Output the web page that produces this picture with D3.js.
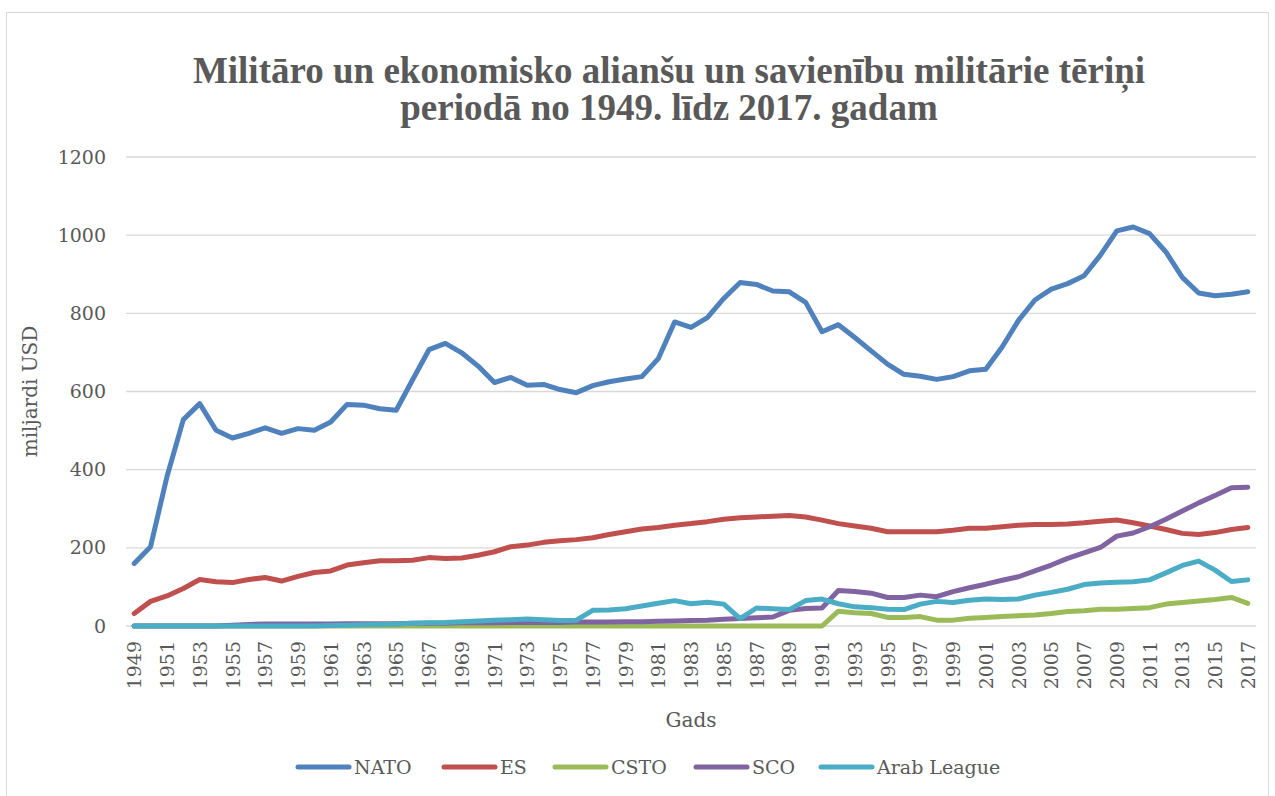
<!DOCTYPE html>
<html>
<head>
<meta charset="utf-8">
<script src="https://cdn.jsdelivr.net/npm/d3@7"></script>
<style>
  body { margin: 0; background: #fff; }
  text { fill: #595959; }
</style>
</head>
<body>
<svg id="chart" width="1275" height="796"></svg>
<script>
// data (miljardi USD)
const years = d3.range(1949, 2018)

const nato = [160, 203, 382, 528, 569, 501, 481, 493, 507, 493,
  505, 501, 522, 567, 565, 556, 552, 630, 707, 723,
  699, 665, 623, 636, 616, 618, 605, 597, 615, 625,
  632, 638, 684, 778, 764, 789, 838, 879, 874, 857,
  855, 828, 753, 771, 738, 704, 670, 644, 639, 631,
  638, 653, 657, 714, 782, 834, 862, 876, 896, 949,
  1011, 1021, 1004, 957, 892, 852, 845, 849, 855]

const es = [32, 63, 77, 96, 119, 113, 111, 119, 124, 115,
  127, 137, 141, 156, 162, 167, 167, 168, 175, 173,
  174, 181, 190, 203, 207, 214, 218, 221, 226, 234,
  241, 248, 252, 258, 262, 267, 273, 277, 279, 281,
  283, 279, 271, 262, 256, 250, 241, 241, 241, 241,
  245, 250, 250, 254, 258, 260, 260, 261, 264, 268,
  271, 264, 256, 247, 237, 234, 239, 247, 252]

const csto = [0, 0, 0, 0, 0, 0, 0, 0, 0, 0,
  0, 0, 0, 0, 0, 0, 0, 0, 0, 0,
  0, 0, 0, 0, 0, 0, 0, 0, 0, 0,
  0, 0, 0, 0, 0, 0, 0, 0, 0, 0,
  0, 0, 0, 38, 34, 32, 22, 22, 24, 15,
  15, 20, 22, 24, 26, 28, 32, 37, 39, 43,
  43, 45, 47, 56, 60, 64, 68, 73, 58]

const sco = [0, 0, 0, 0, 0, 0, 2, 4, 5, 5,
  5, 5, 5, 6, 6, 6, 6, 7, 7, 7,
  8, 8, 8, 9, 9, 9, 9, 10, 10, 10,
  11, 11, 12, 13, 14, 15, 17, 19, 21, 23,
  40, 45, 46, 91, 88, 84, 73, 73, 79, 75,
  88, 98, 107, 117, 126, 141, 156, 173, 187, 201,
  230, 238, 254, 273, 294, 315, 334, 354, 355]

const arab = [0, 0, 0, 0, 0, 0, 0, 0, 0, 0,
  0, 0, 1, 2, 3, 4, 5, 7, 8, 9,
  11, 13, 15, 16, 18, 16, 14, 15, 40, 41,
  44, 51, 58, 65, 57, 61, 56, 19, 46, 44,
  42, 65, 69, 57, 49, 47, 43, 42, 56, 63,
  60, 66, 69, 68, 69, 79, 86, 94, 106, 110,
  112, 113, 118, 136, 155, 166, 143, 114, 118]

const seriesNames = ['NATO', 'ES', 'CSTO', 'SCO', 'Arab League']
const seriesValues = [nato, es, csto, sco, arab]
const seriesColors = ['#4f81bd', '#c0504d', '#9bbb59', '#8064a2', '#4bacc6']
const yTicks = [0, 200, 400, 600, 800, 1000, 1200]

/*----------------------------------------------------------------------------*/

const serif = "'DejaVu Serif', serif"
const plotLeft = 126
const plotRight = 1256
const plotTop = 157
const plotBottom = 626

const svg = d3.select('#chart')

// chart frame
svg.append('rect')
  .attr('x', 6.5)
  .attr('y', 12.5)
  .attr('width', 1262)
  .attr('height', 800)
  .attr('fill', 'none')
  .attr('stroke', '#d9d9d9')
  .attr('stroke-width', 1)

const x = d3.scalePoint()
  .domain(years)
  .range([plotLeft, plotRight])
  .padding(0.5)

const y = d3.scaleLinear()
  .domain([0, 1200])
  .range([plotBottom, plotTop])

// gridlines
svg.append('g')
  .selectAll('line')
  .data(yTicks)
  .enter()
  .append('line')
  .attr('x1', plotLeft)
  .attr('x2', plotRight)
  .attr('y1', d => y(d))
  .attr('y2', d => y(d))
  .attr('stroke', '#d9d9d9')
  .attr('stroke-width', 1.3)

// y axis labels
const yAxis = svg.append('g')
  .attr('transform', `translate(${plotLeft - 20}, 0)`)
  .call(d3.axisLeft(y)
    .tickValues(yTicks)
    .tickFormat(d3.format('d'))
    .tickSize(0)
    .tickPadding(0))

yAxis.select('.domain').remove()
yAxis.selectAll('text')
  .attr('font-family', serif)
  .attr('font-size', 19)
  .attr('fill', '#595959')

// x axis labels, every second year
const xAxis = svg.append('g')
  .attr('transform', `translate(0, ${plotBottom})`)
  .call(d3.axisBottom(x)
    .tickValues(years.filter((d, i) => i % 2 === 0))
    .tickSize(0))

xAxis.select('.domain').remove()
xAxis.selectAll('text')
  .attr('font-family', serif)
  .attr('font-size', 19)
  .attr('fill', '#595959')
  .attr('text-anchor', 'end')
  .attr('transform', 'rotate(-90)')
  .attr('x', -15)
  .attr('y', 0)
  .attr('dy', '0.35em')

// lines
const line = d3.line()
  .x((d, i) => x(years[i]))
  .y(d => y(d))

svg.append('g')
  .selectAll('path')
  .data(seriesValues)
  .enter()
  .append('path')
  .attr('d', line)
  .attr('fill', 'none')
  .attr('stroke', (d, i) => seriesColors[i])
  .attr('stroke-width', 5)
  .attr('stroke-linejoin', 'round')
  .attr('stroke-linecap', 'round')

// titles
const title = svg.append('text')
  .attr('x', 669)
  .attr('text-anchor', 'middle')
  .attr('font-family', "'Liberation Serif', serif")
  .attr('font-weight', 'bold')
  .attr('font-size', 37)

title.append('tspan').attr('x', 669).attr('y', 83)
  .text('Militāro un ekonomisko alianšu un savienību militārie tēriņi')
title.append('tspan').attr('x', 669).attr('y', 120)
  .text('periodā no 1949. līdz 2017. gadam')

svg.append('text')
  .attr('transform', `translate(37, ${(plotTop + plotBottom) / 2}) rotate(-90)`)
  .attr('text-anchor', 'middle')
  .attr('font-family', serif)
  .attr('font-size', 20)
  .text('miljardi USD')

svg.append('text')
  .attr('x', (plotLeft + plotRight) / 2)
  .attr('y', 727)
  .attr('text-anchor', 'middle')
  .attr('font-family', serif)
  .attr('font-size', 20)
  .text('Gads')

// legend
const legendX = [296, 442, 553, 694, 819]
const legend = svg.append('g')
  .selectAll('g')
  .data(seriesNames)
  .enter()
  .append('g')
  .attr('transform', (d, i) => `translate(${legendX[i]}, 767)`)

legend.append('line')
  .attr('x1', 2)
  .attr('x2', 53)
  .attr('stroke', (d, i) => seriesColors[i])
  .attr('stroke-width', 5)
  .attr('stroke-linecap', 'round')

legend.append('text')
  .attr('x', 58)
  .attr('dy', '0.35em')
  .attr('font-family', serif)
  .attr('font-size', 19)
  .text(d => d)
</script>
</body>
</html>
